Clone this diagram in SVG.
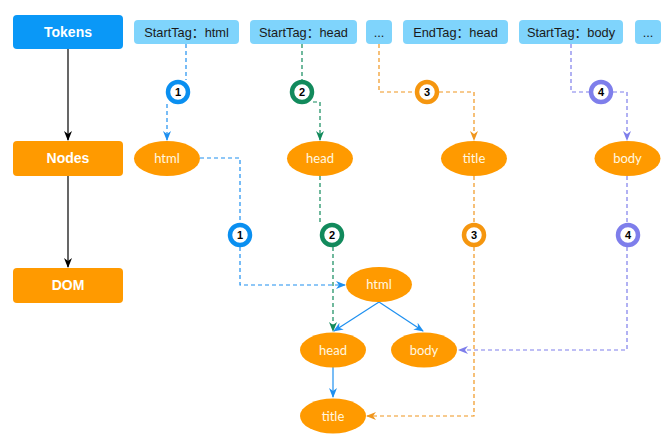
<svg xmlns="http://www.w3.org/2000/svg" width="667" height="442" viewBox="0 0 667 442">
<style>
.lbl{font-family:"Liberation Sans",Arial,sans-serif;font-weight:bold;font-size:14px;fill:#fff;text-anchor:middle}
.tok rect{fill:#7fd4fc}
.tok text{font-family:"Liberation Sans","Noto Sans CJK SC",Arial,sans-serif;font-size:12.8px;fill:#1a1a1a;text-anchor:middle}
.nd ellipse{fill:#ff9a00}
.nd text{font-family:"Lato","Open Sans",sans-serif;font-size:13px;fill:#fff8e1;text-anchor:middle}
.num circle{fill:#fff;stroke-width:4.5}
.num text{font-family:"Liberation Sans",Arial,sans-serif;font-weight:bold;font-size:11px;fill:#000;text-anchor:middle}
.d{fill:none;stroke-width:1.2;stroke-dasharray:4 3}
.b{stroke:#1e90f0}.g{stroke:#128a5c}.o{stroke:#f0961e}.p{stroke:#7e7eeb}
</style>
<defs>
<marker id="mb" markerWidth="10" markerHeight="10" refX="9" refY="5" orient="auto" markerUnits="userSpaceOnUse" viewBox="0 0 10 10"><path d="M0,1 L10,5 L0,9 L3,5 z" fill="#1e90f0"/></marker>
<marker id="mg" markerWidth="10" markerHeight="10" refX="9" refY="5" orient="auto" markerUnits="userSpaceOnUse" viewBox="0 0 10 10"><path d="M0,1 L10,5 L0,9 L3,5 z" fill="#128a5c"/></marker>
<marker id="mo" markerWidth="10" markerHeight="10" refX="9" refY="5" orient="auto" markerUnits="userSpaceOnUse" viewBox="0 0 10 10"><path d="M0,1 L10,5 L0,9 L3,5 z" fill="#f0961e"/></marker>
<marker id="mp" markerWidth="10" markerHeight="10" refX="9" refY="5" orient="auto" markerUnits="userSpaceOnUse" viewBox="0 0 10 10"><path d="M0,1 L10,5 L0,9 L3,5 z" fill="#7e7eeb"/></marker>
<marker id="mk2" markerWidth="10" markerHeight="10" refX="9" refY="5" orient="auto" markerUnits="userSpaceOnUse" viewBox="0 0 10 10"><path d="M0,1 L10,5 L0,9 L3,5 z" fill="#000"/></marker>
</defs>
<rect width="667" height="442" fill="#fff"/>

<g id="connectors">
<line x1="68" y1="49" x2="68" y2="140" stroke="#000" stroke-width="1.2" marker-end="url(#mk2)"/>
<line x1="68" y1="176" x2="68" y2="267" stroke="#000" stroke-width="1.2" marker-end="url(#mk2)"/>
<path class="d b" d="M186,44 V80"/>
<path class="d b" d="M167,104 V140" marker-end="url(#mb)"/>
<path class="d g" d="M302,44 V80"/>
<path class="d g" d="M313,102 H320 V140" marker-end="url(#mg)"/>
<path class="d o" d="M379,44 V92 H415"/>
<path class="d o" d="M439,92 H474 V140" marker-end="url(#mo)"/>
<path class="d p" d="M571,44 V92 H589"/>
<path class="d p" d="M613,92 H627 V140" marker-end="url(#mp)"/>
<path class="d b" d="M200,158 H240 V223"/>
<path class="d b" d="M240,247 V285 H345" marker-end="url(#mb)"/>
<path class="d g" d="M320,176 V222"/>
<path class="d g" d="M333,247 V331" marker-end="url(#mg)"/>
<path class="d o" d="M474,176 V223"/>
<path class="d o" d="M474,247 V416 H367" marker-end="url(#mo)"/>
<path class="d p" d="M627,176 V223"/>
<path class="d p" d="M627,247 V350 H459" marker-end="url(#mp)"/>
<line x1="379" y1="302" x2="334" y2="331" stroke="#1e90f0" stroke-width="1.2" marker-end="url(#mb)"/>
<line x1="379" y1="302" x2="423" y2="331" stroke="#1e90f0" stroke-width="1.2" marker-end="url(#mb)"/>
<line x1="333" y1="367" x2="333" y2="397" stroke="#1e90f0" stroke-width="1.2" marker-end="url(#mb)"/>
</g>

<g id="tokens-label"><rect x="13" y="15" width="110" height="34" rx="4" fill="#0a98f7"/><text class="lbl" x="68" y="37">Tokens</text></g>
<g id="nodes-label"><rect x="13" y="141" width="110" height="35" rx="4" fill="#ff9a00"/><text class="lbl" x="68" y="163">Nodes</text></g>
<g id="dom-label"><rect x="13" y="268" width="110" height="35" rx="4" fill="#ff9a00"/><text class="lbl" x="68" y="290">DOM</text></g>

<g id="tok-html" class="tok"><rect x="134" y="20" width="105" height="24" rx="4"/><text x="186.5" y="36.5">StartTag：html</text></g>
<g id="tok-head" class="tok"><rect x="250" y="20" width="107" height="24" rx="4"/><text x="303.5" y="36.5">StartTag：head</text></g>
<g id="tok-dots1" class="tok"><rect x="366" y="20" width="26" height="24" rx="4"/><text x="379" y="36.5">...</text></g>
<g id="tok-endhead" class="tok"><rect x="403" y="20" width="105" height="24" rx="4"/><text x="455.5" y="36.5">EndTag：head</text></g>
<g id="tok-body" class="tok"><rect x="519" y="20" width="104" height="24" rx="4"/><text x="571" y="36.5">StartTag：body</text></g>
<g id="tok-dots2" class="tok"><rect x="635" y="20" width="26" height="24" rx="4"/><text x="648" y="36.5">...</text></g>

<g id="n-html" class="nd"><ellipse cx="167" cy="158.5" rx="33" ry="17.5"/><text x="167" y="163">html</text></g>
<g id="n-head" class="nd"><ellipse cx="320" cy="158.5" rx="33" ry="17.5"/><text x="320" y="163">head</text></g>
<g id="n-title" class="nd"><ellipse cx="474" cy="158.5" rx="33" ry="17.5"/><text x="474" y="163">title</text></g>
<g id="n-body" class="nd"><ellipse cx="627.5" cy="158.5" rx="33" ry="17.5"/><text x="627.5" y="163">body</text></g>

<g id="d-html" class="nd"><ellipse cx="379" cy="284.5" rx="33" ry="17.5"/><text x="379" y="289">html</text></g>
<g id="d-head" class="nd"><ellipse cx="333" cy="350" rx="33" ry="17.5"/><text x="333" y="354.5">head</text></g>
<g id="d-body" class="nd"><ellipse cx="424" cy="350" rx="33" ry="17.5"/><text x="424" y="354.5">body</text></g>
<g id="d-title" class="nd"><ellipse cx="333" cy="416" rx="33" ry="17.5"/><text x="333" y="420.5">title</text></g>

<g id="s1a" class="num"><circle cx="178" cy="92" r="10" stroke="#0a8ff0"/><text x="178" y="96">1</text></g>
<g id="s2a" class="num"><circle cx="302" cy="92" r="10" stroke="#128a5c"/><text x="302" y="96">2</text></g>
<g id="s3a" class="num"><circle cx="427" cy="92" r="10" stroke="#f5960f"/><text x="427" y="96">3</text></g>
<g id="s4a" class="num"><circle cx="601" cy="92" r="10" stroke="#7e7eeb"/><text x="601" y="96">4</text></g>
<g id="s1b" class="num"><circle cx="240" cy="235" r="10" stroke="#0a8ff0"/><text x="240" y="239">1</text></g>
<g id="s2b" class="num"><circle cx="332" cy="235" r="10" stroke="#128a5c"/><text x="332" y="239">2</text></g>
<g id="s3b" class="num"><circle cx="474" cy="235" r="10" stroke="#f5960f"/><text x="474" y="239">3</text></g>
<g id="s4b" class="num"><circle cx="628" cy="235" r="10" stroke="#7e7eeb"/><text x="628" y="239">4</text></g>
</svg>
